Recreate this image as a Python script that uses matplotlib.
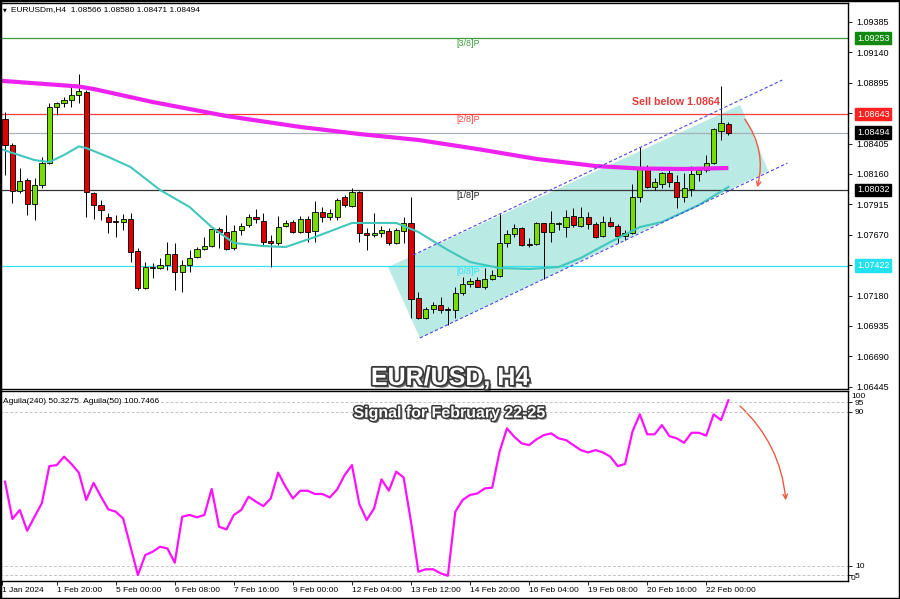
import matplotlib
matplotlib.use("Agg")
import matplotlib.pyplot as plt
import matplotlib.patheffects as pe
from matplotlib.patches import Polygon, FancyArrowPatch, Rectangle
from matplotlib.transforms import blended_transform_factory
import numpy as np

plt.rcParams["font.family"] = ["Liberation Sans", "DejaVu Sans"]

# EURUSD H4 candles
opens = [1.08603, 1.08393, 1.08023, 1.08111, 1.07918, 1.08071, 1.08248, 1.08700, 1.08732, 1.08756,
         1.08796, 1.08820, 1.08006, 1.07910, 1.07813, 1.07781, 1.07773, 1.07797, 1.07539, 1.07241,
         1.07410, 1.07402, 1.07426, 1.07515, 1.07370, 1.07426, 1.07491, 1.07555, 1.07579, 1.07716,
         1.07692, 1.07563, 1.07708, 1.07748, 1.07813, 1.07781, 1.07620, 1.07604, 1.07740, 1.07773,
         1.07692, 1.07797, 1.07700, 1.07853, 1.07813, 1.07813, 1.07974, 1.07902, 1.08014, 1.07684,
         1.07668, 1.07684, 1.07700, 1.07604, 1.07700, 1.07765, 1.07160, 1.06999, 1.07071, 1.07104,
         1.07071, 1.07063, 1.07201, 1.07273, 1.07305, 1.07249, 1.07313, 1.07337, 1.07604, 1.07676,
         1.07724, 1.07595, 1.07595, 1.07765, 1.07692, 1.07757, 1.07732, 1.07821, 1.07740, 1.07813,
         1.07757, 1.07660, 1.07773, 1.07740, 1.07660, 1.07684, 1.07974, 1.08216, 1.08055, 1.08079,
         1.08168, 1.08095, 1.07974, 1.08039, 1.08160, 1.08192, 1.08248, 1.08506, 1.08566]
highs = [1.08659, 1.08409, 1.08208, 1.08127, 1.08127, 1.08297, 1.08732, 1.08740, 1.08780, 1.08861,
         1.08966, 1.08837, 1.08014, 1.07950, 1.07845, 1.07829, 1.07837, 1.07845, 1.07563, 1.07450,
         1.07442, 1.07483, 1.07612, 1.07604, 1.07466, 1.07547, 1.07571, 1.07652, 1.07724, 1.07732,
         1.07829, 1.07748, 1.07765, 1.07837, 1.07878, 1.07845, 1.07668, 1.07821, 1.07789, 1.07789,
         1.07821, 1.07821, 1.07942, 1.07894, 1.07878, 1.07966, 1.07990, 1.08047, 1.08023, 1.07724,
         1.07845, 1.07740, 1.07724, 1.07724, 1.07813, 1.07974, 1.07209, 1.07087, 1.07128, 1.07168,
         1.07087, 1.07249, 1.07329, 1.07321, 1.07329, 1.07402, 1.07386, 1.07837, 1.07708, 1.07757,
         1.07732, 1.07644, 1.07773, 1.07765, 1.07861, 1.07773, 1.07869, 1.07886, 1.07894, 1.07853,
         1.07773, 1.07821, 1.07813, 1.07757, 1.07708, 1.08079, 1.08377, 1.08232, 1.08127, 1.08176,
         1.08192, 1.08152, 1.08168, 1.08224, 1.08216, 1.08313, 1.08530, 1.08869, 1.08580]
lows = [1.08152, 1.07926, 1.08006, 1.07829, 1.07789, 1.08047, 1.08240, 1.08635, 1.08700, 1.08700,
        1.08732, 1.07813, 1.07797, 1.07789, 1.07684, 1.07652, 1.07708, 1.07450, 1.07225, 1.07233,
        1.07321, 1.07394, 1.07386, 1.07225, 1.07209, 1.07370, 1.07483, 1.07547, 1.07571, 1.07563,
        1.07547, 1.07547, 1.07668, 1.07732, 1.07765, 1.07587, 1.07410, 1.07587, 1.07732, 1.07684,
        1.07684, 1.07612, 1.07612, 1.07773, 1.07789, 1.07789, 1.07894, 1.07894, 1.07612, 1.07547,
        1.07652, 1.07652, 1.07587, 1.07596, 1.07604, 1.06999, 1.06991, 1.06991, 1.07039, 1.07039,
        1.06943, 1.06999, 1.07184, 1.07249, 1.07245, 1.07233, 1.07305, 1.07329, 1.07571, 1.07652,
        1.07579, 1.07571, 1.07587, 1.07313, 1.07612, 1.07708, 1.07652, 1.07732, 1.07732, 1.07716,
        1.07644, 1.07652, 1.07732, 1.07604, 1.07628, 1.07676, 1.07934, 1.08047, 1.08031, 1.08047,
        1.08055, 1.07886, 1.07934, 1.07982, 1.08103, 1.08176, 1.08240, 1.08434, 1.08471]
closes = [1.08393, 1.08023, 1.08103, 1.07918, 1.08071, 1.08248, 1.08700, 1.08732, 1.08756, 1.08796,
          1.08829, 1.08014, 1.07910, 1.07869, 1.07773, 1.07773, 1.07797, 1.07531, 1.07241, 1.07410,
          1.07402, 1.07426, 1.07515, 1.07370, 1.07426, 1.07483, 1.07555, 1.07579, 1.07716, 1.07692,
          1.07555, 1.07700, 1.07740, 1.07813, 1.07797, 1.07612, 1.07604, 1.07732, 1.07765, 1.07692,
          1.07797, 1.07692, 1.07853, 1.07813, 1.07845, 1.07950, 1.07910, 1.08014, 1.07684, 1.07668,
          1.07684, 1.07708, 1.07604, 1.07708, 1.07765, 1.07152, 1.06999, 1.07071, 1.07104, 1.07063,
          1.07067, 1.07201, 1.07273, 1.07297, 1.07249, 1.07313, 1.07345, 1.07604, 1.07676, 1.07724,
          1.07587, 1.07587, 1.07765, 1.07692, 1.07765, 1.07765, 1.07813, 1.07748, 1.07813, 1.07757,
          1.07652, 1.07773, 1.07740, 1.07660, 1.07684, 1.07974, 1.08216, 1.08055, 1.08095, 1.08168,
          1.08095, 1.07974, 1.08047, 1.08160, 1.08192, 1.08248, 1.08522, 1.08571, 1.08494]

# moving averages (bar index, price)
ma240_idx = [-1, 10, 12, 20, 30, 40, 48, 56, 64, 72, 80, 86, 92, 98]
ma240_val = [1.08913, 1.08865, 1.08845, 1.08740, 1.08627, 1.08539, 1.08482, 1.08434,
             1.08361, 1.08281, 1.08224, 1.08204, 1.08200, 1.08208]
ma50_idx = [-1, 4, 6, 8, 10, 11, 14, 17, 21, 25, 28, 31, 35, 38, 42, 47, 53, 56, 60, 63,
            67, 71, 75, 78, 82, 86, 89, 94, 98]
ma50_val = [1.08369, 1.08272, 1.08256, 1.08313, 1.08382, 1.08369, 1.08297, 1.08216, 1.08031,
            1.07894, 1.07732, 1.07604, 1.07579, 1.07571, 1.07652, 1.07765, 1.07765, 1.07692,
            1.07547, 1.07450, 1.07402, 1.07394, 1.07410, 1.07483, 1.07612, 1.07732, 1.07773,
            1.07910, 1.08055]

# lower indicator
aguila = [53.7, 34.3, 39.0, 28.2, 35.5, 42.6, 61.8, 62.3, 66.7, 62.9,
          58.4, 44.2, 53.1, 45.9, 39.3, 38.1, 34.6, 19.9, 5.2, 15.6,
          17.3, 19.9, 19.0, 11.6, 35.5, 36.4, 35.2, 36.4, 49.9, 30.3,
          28.9, 36.4, 39.0, 45.9, 43.3, 41.0, 45.0, 58.4, 51.1, 45.0,
          49.0, 49.0, 47.3, 47.3, 45.5, 49.7, 57.1, 62.3, 42.1, 33.8,
          39.8, 54.9, 49.0, 58.9, 55.9, 32.9, 6.9, 8.2, 8.2, 6.1,
          4.8, 38.1, 44.2, 46.8, 47.6, 50.2, 50.6, 69.3, 81.4, 77.0,
          73.6, 72.7, 75.7, 77.9, 78.8, 76.2, 75.3, 72.7, 70.1, 68.9,
          70.1, 68.9, 66.7, 61.8, 62.9, 79.7, 88.7, 78.3, 78.3, 83.1,
          77.4, 76.2, 73.9, 79.1, 79.1, 77.6, 88.7, 85.7, 96.0]

tick_idx = [-0.4, 7, 15, 23, 31, 39, 47, 55, 63, 71, 79, 87, 95]
tick_labels = ["1 Jan 2024", "1 Feb 20:00", "5 Feb 00:00", "6 Feb 08:00", "7 Feb 16:00",
               "9 Feb 00:00", "12 Feb 04:00", "13 Feb 12:00", "14 Feb 20:00", "16 Feb 04:00",
               "19 Feb 08:00", "20 Feb 16:00", "22 Feb 00:00"]

price_ticks = [1.09385, 1.09140, 1.08895, 1.08650, 1.08405, 1.08160, 1.07915, 1.07670,
               1.07425, 1.07180, 1.06935, 1.06690, 1.06445]

# murrey levels: price, line colour, label box colour, tag
levels = [(1.09253, "#3c9c3c", "#128a12", "[3/8]P"),
          (1.08643, "#ff3a3a", "#ff2020", "[2/8]P"),
          (1.08032, "#333333", "#000000", "[1/8]P"),
          (1.07422, "#30e4f0", "#22e2f0", "[0/8]P")]
last_price = 1.08494

channel_up = ([55.3, 105.3], [1.07507, 1.08917])
channel_dn = ([56.2, 106.0], [1.06838, 1.08248])
box_pts = [(51.9, 1.07410), (56.2, 1.06838), (103.4, 1.08184), (99.6, 1.08716)]

fig = plt.figure(figsize=(9, 5.99), dpi=100)
ax = fig.add_axes([0.0, 0.3506, 0.9422, 0.6444])
ax2 = fig.add_axes([0.0, 0.030, 0.9422, 0.3172])

idx = np.arange(len(opens))
o = np.array(opens); c = np.array(closes)

ax.add_patch(Polygon(box_pts, closed=True, facecolor="#b9eae4", edgecolor="none", zorder=1))

for p, lc, bc, tag in levels:
    ax.axhline(p, color=lc, lw=0.9, zorder=2)
ax.axhline(last_price, color="#a8b0b8", lw=0.9, zorder=2)

tag_colors = ["#3c9c3c", "#ff4040", "#222222", "#30e0f0"]
for (p, lc, bc, tag), tc in zip(levels, tag_colors):
    ax.text(61.1, p - 0.00045, tag, color=tc, fontsize=6.5, va="center", zorder=3)

ax.vlines(idx, lows, highs, color="k", lw=0.7, zorder=3)
body_col = np.where(c >= o, "#77dd00", "#dd0000")
h = np.maximum(np.abs(c - o), 0.00002)
ax.bar(idx, h, bottom=np.minimum(o, c), width=0.7, color=body_col,
       edgecolor="k", linewidth=0.6, zorder=4)

ax.plot(ma240_idx, ma240_val, color="#ee22ee", lw=3, solid_capstyle="butt", zorder=5)
ax.plot(ma50_idx, ma50_val, color="#40c8bc", lw=1.5, zorder=5)

for xs, ys in (channel_up, channel_dn):
    ax.plot(xs, ys, color="#4a4ae0", lw=0.8, ls=(0, (3, 2)), zorder=6)

ax.add_patch(FancyArrowPatch((100.0, 1.08619), (101.8, 1.08031),
                             connectionstyle="arc3,rad=-0.25", arrowstyle="->",
                             mutation_scale=8, color="#ee5a44", lw=1, zorder=7))

ax.text(85, 1.08744, "Sell below 1.0864", color="#e43a3a", fontsize=7.7,
        fontweight="bold", va="center", zorder=7)

ax.text(0.013, 0.982, "EURUSDm,H4  1.08566 1.08580 1.08471 1.08494",
        transform=ax.transAxes, fontsize=6, va="center")
ax.text(0.003, 0.982, "\u25bc", transform=ax.transAxes, fontsize=3.5, va="center",
        family="DejaVu Sans")

ax.set_xlim(-0.68, 114.2)
ax.set_ylim(1.06427, 1.09538)
ax.yaxis.tick_right()
ax.set_yticks(price_ticks)
ax.set_yticklabels(["%.5f" % t for t in price_ticks])
ax.tick_params(axis="y", labelsize=6.5, length=3, width=0.6, pad=3)
ax.set_xticks([])
for s in ax.spines.values():
    s.set_color("k"); s.set_linewidth(1)

bt = blended_transform_factory(ax.transAxes, ax.transData)
for p, lc, bc, tag in levels:
    ax.text(1.0105, p, "%.5f" % p, transform=bt, fontsize=6.5, color="white", va="center",
            ha="left", zorder=10, clip_on=False,
            bbox=dict(boxstyle="square,pad=0.18", fc=bc, ec=bc))
ax.text(1.0105, last_price, "%.5f" % last_price, transform=bt, fontsize=6.5, color="white",
        va="center", ha="left", zorder=10, clip_on=False,
        bbox=dict(boxstyle="square,pad=0.18", fc="black", ec="black"))

# lower panel
for v in (95, 90, 10, 5):
    ax2.axhline(v, color="#c4c4c4", lw=0.7, ls=(0, (3, 2)))
ax2.plot(idx, aguila, color="#ff11ff", lw=1.6)
ax2.add_patch(FancyArrowPatch((99.3, 94.0), (105.8, 42.6),
                              connectionstyle="arc3,rad=-0.2", arrowstyle="->",
                              mutation_scale=8, color="#ee5a44", lw=1))
ax2.text(0.003, 0.947, "Aguila(240) 50.3275  Aguila(50) 100.7466",
         transform=ax2.transAxes, fontsize=6, va="center")
ax2.set_xlim(-0.68, 114.2)
ax2.set_ylim(2.08, 100.8)
ax2.yaxis.tick_right()
ax2.set_yticks([95, 90, 10, 5])
ax2.set_yticklabels(["95", "90", "10", "5"])
ax2.tick_params(axis="y", labelsize=6, length=3, width=0.6, pad=2)
bt2 = blended_transform_factory(ax2.transAxes, ax2.transData)
ax2.text(1.0035, 98.2, "100", transform=bt2, fontsize=6, va="center")
ax2.text(1.0035, 3.2, "0", transform=bt2, fontsize=6, va="center")
ax2.set_xticks(tick_idx)
ax2.set_xticklabels(tick_labels, ha="left")
ax2.tick_params(axis="x", labelsize=6, length=3, width=0.6, pad=1)
for s in ax2.spines.values():
    s.set_color("k"); s.set_linewidth(1)

shadow = [pe.SimplePatchShadow(offset=(1.8, -1.8), shadow_rgbFace="#000000", alpha=0.55),
          pe.Stroke(linewidth=2.6, foreground="#3a3a3a"), pe.Normal()]
fig.text(0.5, 0.369, "EUR/USD, H4", ha="center", va="center", color="white",
         fontsize=18, fontweight="bold", path_effects=shadow, zorder=20)
fig.text(0.5, 0.3105, "Signal for February 22-25", ha="center", va="center", color="white",
         fontsize=11.5, fontweight="bold", zorder=20,
         path_effects=[pe.SimplePatchShadow(offset=(1.5, -1.5), shadow_rgbFace="#000000", alpha=0.55),
                       pe.Stroke(linewidth=2.2, foreground="#3a3a3a"), pe.Normal()])

fig.patches.append(Rectangle((0, 0), 1, 1, transform=fig.transFigure, fill=False,
                             edgecolor="k", lw=2.5))

fig.savefig("out.png", dpi=100)
